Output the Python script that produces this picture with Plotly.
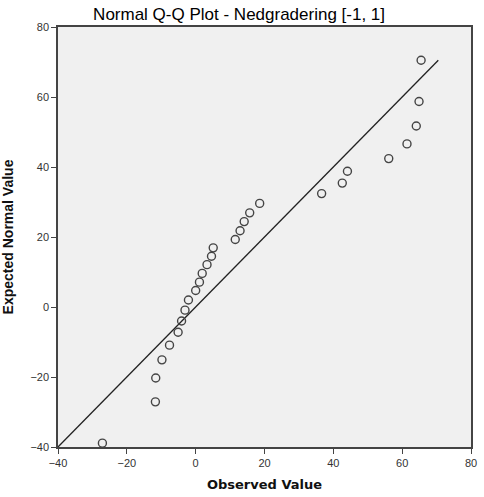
import plotly.graph_objects as go

observed = [-27.1, -11.7, -11.6, -9.8, -7.6, -5.1, -4.1, -3.1, -2.1, 0.0,
            1.1, 1.9, 3.3, 4.6, 5.1, 11.5, 12.9, 14.1, 15.7, 18.6,
            36.6, 42.6, 44.1, 56.1, 61.4, 64.1, 64.9, 65.5]
expected = [-38.9, -27.1, -20.3, -15.1, -10.9, -7.2, -4.0, -0.9, 2.0, 4.7,
            7.1, 9.6, 12.1, 14.5, 16.9, 19.3, 21.8, 24.4, 26.9, 29.6,
            32.4, 35.4, 38.8, 42.4, 46.6, 51.7, 58.7, 70.5]
line_x = [-40, 70.5]
line_y = [-40, 70.5]
ticks = [-40, -20, 0, 20, 40, 60, 80]

fig = go.Figure()
fig.add_trace(go.Scatter(x=line_x, y=line_y, mode="lines",
                         line=dict(color="#222222", width=1.3), hoverinfo="skip"))
fig.add_trace(go.Scatter(x=observed, y=expected, mode="markers",
                         marker=dict(symbol="circle-open", size=8,
                                     color="#444444", line=dict(width=1.4))))

axis_common = dict(range=[-40, 80], tickvals=ticks, ticks="outside", ticklen=5,
                   tickcolor="#444444", showgrid=False, zeroline=False,
                   showline=True, linecolor="#444444", linewidth=1.5, mirror=True,
                   tickfont=dict(family="Liberation Sans, Arial", size=11, color="#333333"))

fig.update_layout(
    width=484, height=497,
    margin=dict(l=57, r=7, t=27, b=50),
    paper_bgcolor="white", plot_bgcolor="#F0F0F0",
    showlegend=False,
    title=dict(text="Normal Q-Q Plot - Nedgradering [-1, 1]",
               x=0.494, xanchor="center", y=0.971, yanchor="middle",
               font=dict(family="Liberation Sans, Arial", size=17, color="#000000")),
    xaxis=dict(title=dict(text="<b>Observed Value</b>", standoff=12,
                          font=dict(family="DejaVu Sans", size=13, color="#111111")),
               **axis_common),
    yaxis=dict(title=dict(text="<b>Expected Normal Value</b>", standoff=14,
                          font=dict(family="Liberation Sans, Arial", size=14, color="#111111")),
               **axis_common),
)

fig.write_html("out.html")
